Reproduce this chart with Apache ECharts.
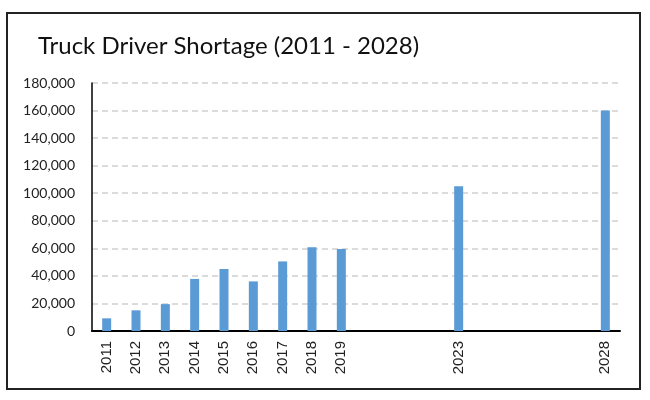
<!DOCTYPE html>
<html><head><meta charset="utf-8">
<script src="https://cdn.jsdelivr.net/npm/echarts@6/dist/echarts.min.js"></script>
<style>html,body{margin:0;padding:0;background:#fff}#c{width:650px;height:400px}</style>
</head><body><div id="c"></div>
<script>
const titleText = 'Truck Driver Shortage (2011 - 2028)';
const years = ['2011','2012','2013','2014','2015','2016','2017','2018','2019','2020','2021','2022','2023','2024','2025','2026','2027','2028'];
const shortage = [9200, 15000, 19500, 37800, 45000, 36000, 50500, 60800, 59500, null, null, null, 105000, null, null, null, null, 160000];
const yTicks = {min: 0, max: 180000, interval: 20000};

const chart = echarts.init(document.getElementById('c'));
chart.setOption({
  animation: false,
  graphic: [{type: 'rect', shape: {x: 7, y: 13, width: 633, height: 376}, style: {fill: 'none', stroke: '#222', lineWidth: 2}, z: -1}],
  title: {text: titleText, left: 33, top: 29, textStyle: {fontFamily: 'Lato', fontWeight: 'normal', fontSize: 24, color: '#111'}},
  grid: {left: 92, right: 30, top: 83, bottom: 69, containLabel: false},
  xAxis: {
    type: 'category', data: years,
    axisLine: {lineStyle: {color: '#000', width: 2}},
    axisTick: {show: false},
    axisLabel: {rotate: 90, margin: 10, fontFamily: 'Liberation Sans', fontSize: 15, color: '#222',
      interval: 0,
      formatter: (v, i) => shortage[i] == null ? '' : v}
  },
  yAxis: {
    type: 'value', min: yTicks.min, max: yTicks.max, interval: yTicks.interval,
    axisLine: {show: true, lineStyle: {color: '#000', width: 1.5}},
    axisTick: {show: false},
    axisLabel: {fontFamily: 'Lato', fontSize: 14, color: '#222', margin: 17,
      formatter: v => v.toLocaleString('en-US')},
    splitLine: {lineStyle: {color: '#d0d0d0', type: [6, 4], width: 1.5}}
  },
  series: [{type: 'bar', data: shortage, barWidth: 9, itemStyle: {color: '#5b9bd5'}}]
});
</script></body></html>
